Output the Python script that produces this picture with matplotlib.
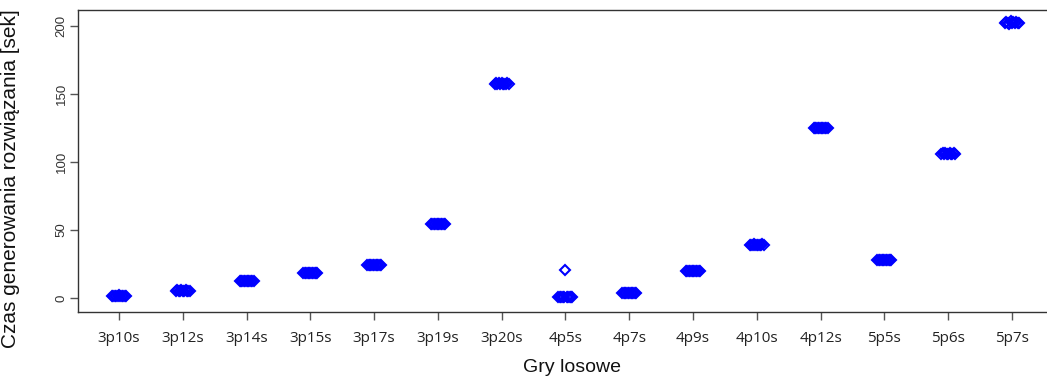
import matplotlib
matplotlib.use("Agg")
import matplotlib.pyplot as plt
import numpy as np

categories = ["3p10s", "3p12s", "3p14s", "3p15s", "3p17s", "3p19s", "3p20s",
              "4p5s", "4p7s", "4p9s", "4p10s", "4p12s", "5p5s", "5p6s", "5p7s"]

# measured generation times [s] per random game (11 runs each)
t_3p10s = [1.6, 1.8, 1.5, 1.7, 1.6, 1.9, 1.6, 1.5, 1.8, 1.7, 1.6]
t_3p12s = [5.2, 5.6, 5.4, 5.3, 5.8, 5.5, 5.4, 5.6, 5.3, 5.5, 5.4]
t_3p14s = [12.4, 12.6, 12.5, 12.3, 12.7, 12.5, 12.4, 12.6, 12.5, 12.4, 12.6]
t_3p15s = [18.2, 18.5, 18.3, 18.6, 18.4, 18.2, 18.5, 18.4, 18.3, 18.6, 18.4]
t_3p17s = [24.3, 24.6, 24.4, 24.5, 24.2, 24.6, 24.4, 24.3, 24.5, 24.4, 24.6]
t_3p19s = [54.3, 54.6, 54.5, 54.2, 54.7, 54.4, 54.5, 54.3, 54.6, 54.4, 54.5]
t_3p20s = [157.4, 157.8, 157.5, 157.9, 157.6, 158.4, 157.5, 157.7, 157.6, 157.8, 157.5]
t_4p5s  = [0.6, 0.7, 0.5, 0.8, 0.6, 20.6, 0.7, 0.5, 0.6, 0.8, 0.6]
t_4p7s  = [3.6, 3.9, 3.7, 3.8, 3.6, 3.9, 3.7, 3.8, 3.6, 3.7, 3.8]
t_4p9s  = [19.8, 20.0, 19.9, 20.1, 19.8, 20.0, 19.9, 20.1, 19.9, 20.0, 19.8]
t_4p10s = [39.0, 39.3, 39.1, 39.4, 39.2, 39.0, 39.3, 39.1, 39.2, 39.4, 39.1]
t_4p12s = [124.8, 125.1, 124.9, 125.3, 125.0, 124.8, 125.2, 124.9, 125.1, 125.0, 124.9]
t_5p5s  = [27.9, 28.2, 28.0, 28.3, 28.1, 27.9, 28.2, 28.0, 28.1, 28.3, 28.0]
t_5p6s  = [105.8, 106.3, 106.0, 106.5, 105.9, 106.2, 106.4, 105.8, 106.1, 106.3, 106.0]
t_5p7s  = [202.0, 203.2, 202.5, 201.8, 203.5, 202.3, 202.9, 201.9, 203.1, 202.6, 202.2]

series = [t_3p10s, t_3p12s, t_3p14s, t_3p15s, t_3p17s, t_3p19s, t_3p20s,
          t_4p5s, t_4p7s, t_4p9s, t_4p10s, t_4p12s, t_5p5s, t_5p6s, t_5p7s]

W, H = 1047, 378
fig = plt.figure(figsize=(W / 100, H / 100), dpi=100)
ax = fig.add_axes([78 / W, (H - 312) / H, (W - 78) / W, (312 - 10) / H])

for i, vals in enumerate(series):
    pos = i + 1
    offs = np.linspace(-0.11, 0.11, len(vals))
    ax.plot(pos + offs, vals, linestyle="none", marker="D", markersize=5.0,
            markerfacecolor="none", markeredgecolor="#0000ff", markeredgewidth=1.5)

ax.set_xlim(0.357, 15.55)
ax.set_ylim(-10.3, 211.8)
ax.set_xticks(range(1, len(categories) + 1))
ax.set_xticklabels(categories, fontsize=11, family="Open Sans", color="#222222")
ax.set_yticks([0, 50, 100, 150, 200])
ax.set_yticklabels(["0", "50", "100", "150", "200"], rotation=90, va="center",
                   fontsize=9.5, family="Liberation Sans", color="#333333")

for s in ["left", "bottom", "top"]:
    ax.spines[s].set_color("#333333")
    ax.spines[s].set_linewidth(1.0)
ax.spines["right"].set_visible(False)
ax.tick_params(axis="both", length=5.5, width=1.0, color="#555555")
ax.tick_params(axis="x", pad=8)
ax.tick_params(axis="y", pad=2)

ax.set_xlabel("Gry losowe", fontsize=14, family="Liberation Sans", color="#111111")
ax.set_ylabel("Czas generowania rozwiązania [sek]", fontsize=15,
              family="Liberation Sans", color="#111111")
ax.xaxis.set_label_coords(0.51, -0.155)
ax.yaxis.set_label_coords(-0.06, 0.44)

fig.savefig("out.png", dpi=100)
